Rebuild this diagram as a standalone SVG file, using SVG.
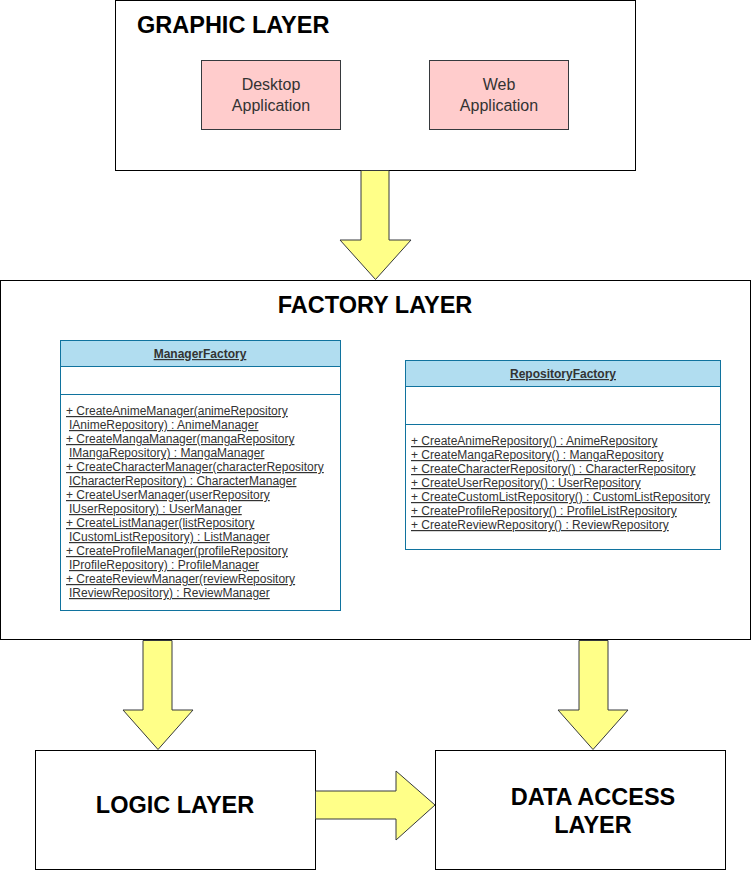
<svg xmlns="http://www.w3.org/2000/svg" width="751" height="871" viewBox="0 0 751 871">
<style>
.layer{fill:#ffffff;stroke:#000000;stroke-width:1}
.title{font-family:"Liberation Sans",Arial,sans-serif;font-weight:bold;font-size:23.5px;fill:#000000}
.app{fill:#ffcccc;stroke:#36393d;stroke-width:1}
.apptxt{font-family:"Liberation Sans",Arial,sans-serif;font-size:16px;fill:#333333;text-anchor:middle}
.uml{fill:#ffffff;stroke:#10739e;stroke-width:1}
.umlhead{fill:#b1ddf0;stroke:#10739e;stroke-width:1}
.umlsep{stroke:#10739e;stroke-width:1}
.hdr{font-family:"Liberation Sans",Arial,sans-serif;font-weight:bold;font-size:12px;fill:#333333;text-anchor:middle;text-decoration:underline}
.m{font-family:"Liberation Sans",Arial,sans-serif;font-size:12px;fill:#333333;text-decoration:underline}
.arrow{fill:#ffff88;stroke:#36393d;stroke-width:1;stroke-linejoin:miter}
</style>
<g id="graphic-layer">
<rect class="layer" x="115.5" y="0.5" width="520" height="170"/>
<text class="title" x="137" y="33">GRAPHIC LAYER</text>
</g>
<g id="desktop-app">
<rect class="app" x="201.5" y="60.5" width="139" height="69"/>
<text class="apptxt" x="271" y="90">Desktop</text>
<text class="apptxt" x="271" y="111">Application</text>
</g>
<g id="web-app">
<rect class="app" x="429.5" y="60.5" width="139" height="69"/>
<text class="apptxt" x="499" y="90">Web</text>
<text class="apptxt" x="499" y="111">Application</text>
</g>
<g id="factory-layer">
<rect class="layer" x="0.5" y="280.5" width="750" height="359"/>
<text class="title" x="375" y="313" text-anchor="middle">FACTORY LAYER</text>
</g>
<g id="manager-factory">
<rect class="uml" x="60.5" y="340.5" width="280" height="270"/>
<rect class="umlhead" x="60.5" y="340.5" width="280" height="26"/>
<line class="umlsep" x1="60.5" y1="394.5" x2="340.5" y2="394.5"/>
<text class="hdr" x="200" y="358">ManagerFactory</text>
<text class="m" x="66" y="415">+ CreateAnimeManager(animeRepository</text>
<text class="m" x="69" y="429">IAnimeRepository) : AnimeManager</text>
<text class="m" x="66" y="443">+ CreateMangaManager(mangaRepository</text>
<text class="m" x="69" y="457">IMangaRepository) : MangaManager</text>
<text class="m" x="66" y="471">+ CreateCharacterManager(characterRepository</text>
<text class="m" x="69" y="485">ICharacterRepository) : CharacterManager</text>
<text class="m" x="66" y="499">+ CreateUserManager(userRepository</text>
<text class="m" x="69" y="513">IUserRepository) : UserManager</text>
<text class="m" x="66" y="527">+ CreateListManager(listRepository</text>
<text class="m" x="69" y="541">ICustomListRepository) : ListManager</text>
<text class="m" x="66" y="555">+ CreateProfileManager(profileRepository</text>
<text class="m" x="69" y="569">IProfileRepository) : ProfileManager</text>
<text class="m" x="66" y="583">+ CreateReviewManager(reviewRepository</text>
<text class="m" x="69" y="597">IReviewRepository) : ReviewManager</text>
</g>
<g id="repository-factory">
<rect class="uml" x="405.5" y="360.5" width="315" height="189"/>
<rect class="umlhead" x="405.5" y="360.5" width="315" height="26"/>
<line class="umlsep" x1="405.5" y1="424.5" x2="720.5" y2="424.5"/>
<text class="hdr" x="563" y="378">RepositoryFactory</text>
<text class="m" x="411" y="445">+ CreateAnimeRepository() : AnimeRepository</text>
<text class="m" x="411" y="459">+ CreateMangaRepository() : MangaRepository</text>
<text class="m" x="411" y="473">+ CreateCharacterRepository() : CharacterRepository</text>
<text class="m" x="411" y="487">+ CreateUserRepository() : UserRepository</text>
<text class="m" x="411" y="501">+ CreateCustomListRepository() : CustomListRepository</text>
<text class="m" x="411" y="515">+ CreateProfileRepository() : ProfileListRepository</text>
<text class="m" x="411" y="529">+ CreateReviewRepository() : ReviewRepository</text>
</g>
<g id="logic-layer">
<rect class="layer" x="35.5" y="750.5" width="280" height="119"/>
<text class="title" x="175" y="813" text-anchor="middle">LOGIC LAYER</text>
</g>
<g id="data-access-layer">
<rect class="layer" x="435.5" y="750.5" width="290" height="119"/>
<text class="title" x="593" y="805" text-anchor="middle">DATA ACCESS</text>
<text class="title" x="593" y="833" text-anchor="middle">LAYER</text>
</g>
<g id="connectors">
<polygon class="arrow" points="361,170.5 389,170.5 389,240 411,240 375.5,279.5 340,240 361,240"/>
<polygon class="arrow" points="143,640.5 172,640.5 172,710 193,710 158,749.5 123,710 143,710"/>
<polygon class="arrow" points="579,640.5 608,640.5 608,710 628,710 593,749.5 558,710 579,710"/>
<polygon class="arrow" points="315.5,791 396,791 396,771 435,805 396,840 396,819 315.5,819"/>
</g>
</svg>
